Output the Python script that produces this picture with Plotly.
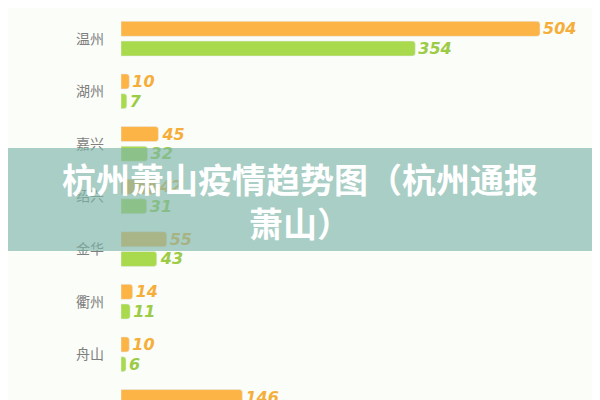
"""
Horizontal grouped bar chart of Zhejiang city case counts with a title banner.
"""

import plotly.graph_objects as go

# data
cities = ['宁波', '温州', '湖州', '嘉兴', '绍兴', '金华', '衢州', '舟山', '台州']
confirmed = [157, 504, 10, 45, 42, 55, 14, 10, 146]
discharged = [134, 354, 7, 32, 31, 43, 11, 6, None]
title_text = '杭州萧山疫情趋势图（杭州通报<br>萧山）'

ORANGE = '#FDB446'
GREEN = '#A9DA4E'
ORANGE_TXT = '#F6AE3A'
GREEN_TXT = '#9CCB45'
BG = '#FBFDF8'

num_font = dict(family='DejaVu Sans', size=16, weight='bold', style='italic')

fig = go.Figure()

fig.add_trace(go.Bar(
    y=cities,
    x=confirmed,
    orientation='h',
    name='确诊',
    marker=dict(color=ORANGE, cornerradius=3),
    text=confirmed,
    textposition='outside',
    constraintext='none',
    cliponaxis=False,
    textfont=dict(color=ORANGE_TXT, **num_font),
))

fig.add_trace(go.Bar(
    y=cities,
    x=discharged,
    orientation='h',
    name='出院',
    marker=dict(color=GREEN, cornerradius=3),
    text=discharged,
    textposition='outside',
    constraintext='none',
    cliponaxis=False,
    textfont=dict(color=GREEN_TXT, **num_font),
))

# translucent banner across the middle
fig.add_shape(
    type='rect', xref='paper', yref='paper',
    x0=-0.26, x1=1.01, y0=0.3925, y1=0.65,
    fillcolor='rgba(124,181,169,0.65)', line=dict(width=0),
    layer='above',
)

fig.add_annotation(
    xref='paper', yref='paper', x=0.3676, y=0.52,
    xanchor='center', yanchor='middle',
    text=title_text, showarrow=False, align='center',
    font=dict(family='Noto Sans CJK SC', size=34, color='white', weight='bold'),
)

fig.update_layout(
    width=600,
    height=400,
    margin=dict(l=113, r=0, t=0, b=0),
    paper_bgcolor=BG,
    plot_bgcolor=BG,
    barmode='group',
    bargap=0.25,
    bargroupgap=0.24,
    showlegend=False,
    xaxis=dict(visible=False, range=[0, 585.8], fixedrange=True, automargin=False),
    yaxis=dict(
        type='category',
        range=[8.021, 0.4163],
        automargin=False,
        showgrid=False,
        zeroline=False,
        showline=False,
        ticks='',
        ticklabelstandoff=16,
        tickfont=dict(family='Noto Sans CJK SC', size=14, color='#7F7F7F'),
    ),
)

fig.write_html("out.html")
